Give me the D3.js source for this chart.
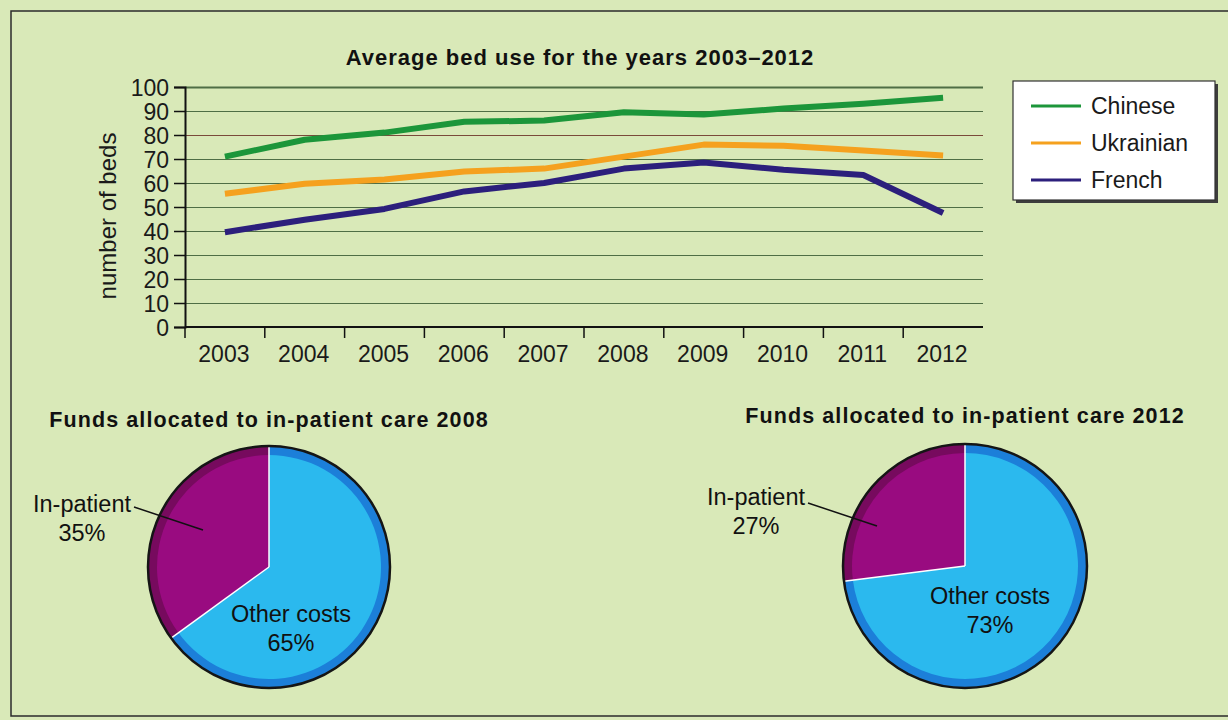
<!DOCTYPE html>
<html>
<head>
<meta charset="utf-8">
<script src="https://cdn.jsdelivr.net/npm/d3@7"></script>
<style>
  body { margin: 0; background: #d9e9b8; }
  svg { display: block; font-family: "Liberation Sans", Arial, sans-serif; }
</style>
</head>
<body>
<svg id="chart" width="1228" height="720"></svg>
<script>
// Data
let years = ["2003", "2004", "2005", "2006", "2007", "2008", "2009", "2010", "2011", "2012"];
let chinese = [71, 78, 81, 85.5, 86, 89.5, 88.5, 91, 93, 95.5];
let ukrainian = [55.5, 59.7, 61.5, 64.8, 66, 71, 76, 75.5, 73.5, 71.5];
let french = [39.5, 44.7, 49.2, 56.5, 60, 66, 68.5, 65.5, 63.3, 47.5];
let seriesNames = ["Chinese", "Ukrainian", "French"];
let seriesColors = ["#1c963a", "#f5a11e", "#2c1f7c"];
let yTicks = [0, 10, 20, 30, 40, 50, 60, 70, 80, 90, 100];

let pieTitles = ["Funds allocated to in-patient care 2008", "Funds allocated to in-patient care 2012"];
let pieLabels = ["Other costs", "In-patient"];
let pie2008 = [65, 35];
let pie2012 = [73, 27];

let svg = d3.select("#chart");

// page frame
svg.append("path")
    .attr("d", "M1228,11 H11 V716 H1228")
    .attr("fill", "none")
    .attr("stroke", "#2b2b2b")
    .attr("stroke-width", 1.5);

// ---------- line chart ----------
let plotLeft = 185, plotRight = 983, plotTop = 87, plotBottom = 327;

let x = d3.scaleBand().domain(years).range([plotLeft, plotRight]);
let y = d3.scaleLinear().domain([0, 100]).range([plotBottom, plotTop]);

// gridlines
svg.append("g")
    .attr("transform", `translate(${plotLeft},0)`)
    .call(d3.axisLeft(y).tickValues(yTicks).tickSize(-(plotRight - plotLeft)).tickFormat(""))
    .call((g) => g.select(".domain").remove())
    .call((g) => g.selectAll("line")
        .attr("stroke", (d) => (d === 80 ? "#7a4a3a" : "#4f6e45"))
        .attr("stroke-width", (d) => (d === 100 ? 2 : 1.2)));

// y axis
svg.append("g")
    .attr("transform", `translate(${plotLeft},0)`)
    .call(d3.axisLeft(y).tickValues(yTicks).tickSize(11).tickPadding(5))
    .call((g) => g.select(".domain").attr("stroke", "#111").attr("stroke-width", 2))
    .call((g) => g.selectAll("line").attr("stroke", "#111").attr("stroke-width", 1.5))
    .call((g) => g.selectAll("text")
        .attr("fill", "#1a1a1a")
        .style("font-size", "23px")
        .attr("dy", "0.36em"));

// x axis
let xAxis = svg.append("g")
    .attr("transform", `translate(0,${plotBottom})`);
xAxis.append("line")
    .attr("x1", plotLeft).attr("x2", plotRight)
    .attr("stroke", "#111").attr("stroke-width", 2);
xAxis.selectAll("line.tick")
    .data(years)
    .join("line")
    .attr("class", "tick")
    .attr("x1", (d) => x(d)).attr("x2", (d) => x(d))
    .attr("y1", 0).attr("y2", 11)
    .attr("stroke", "#111").attr("stroke-width", 1.5);
xAxis.selectAll("text")
    .data(years)
    .join("text")
    .attr("x", (d) => x(d) + x.bandwidth() / 2 - 1)
    .attr("y", 35)
    .attr("text-anchor", "middle")
    .attr("fill", "#1a1a1a")
    .style("font-size", "23px")
    .text((d) => d);

// y title
svg.append("text")
    .attr("transform", "translate(116,216) rotate(-90)")
    .attr("text-anchor", "middle")
    .attr("fill", "#1a1a1a")
    .style("font-size", "24px")
    .text("number of beds");

// title
svg.append("text")
    .attr("x", 580).attr("y", 65)
    .attr("text-anchor", "middle")
    .attr("fill", "#111")
    .style("font-size", "22px")
    .style("font-weight", "bold")
    .style("letter-spacing", "1px")
    .text("Average bed use for the years 2003\u20132012");

// lines
let lineGen = d3.line()
    .x((d, i) => x(years[i]) + x.bandwidth() / 2)
    .y((d) => y(d));

[chinese, ukrainian, french].forEach((vals, i) => {
    svg.append("path")
        .datum(vals)
        .attr("d", lineGen)
        .attr("fill", "none")
        .attr("stroke", seriesColors[i])
        .attr("stroke-width", 6)
        .attr("stroke-linejoin", "round");
});

// legend
let legend = svg.append("g").attr("transform", "translate(1013,81)");
legend.append("rect")
    .attr("x", 3).attr("y", 3).attr("width", 202).attr("height", 119)
    .attr("fill", "#3d3d3d");
legend.append("rect")
    .attr("width", 202).attr("height", 119)
    .attr("fill", "#fff")
    .attr("stroke", "#333").attr("stroke-width", 1.2);
seriesNames.forEach((name, i) => {
    let ly = 25 + i * 37;
    legend.append("line")
        .attr("x1", 18).attr("x2", 68)
        .attr("y1", ly).attr("y2", ly)
        .attr("stroke", seriesColors[i])
        .attr("stroke-width", 3);
    legend.append("text")
        .attr("x", 78).attr("y", ly)
        .attr("dy", "0.35em")
        .attr("fill", "#1a1a1a")
        .style("font-size", "23px")
        .text(name);
});

// ---------- pies ----------
function drawPie(cx, cy, r, values, title, titleY, inLabel, otherLabel) {
    svg.append("text")
        .attr("x", cx).attr("y", titleY)
        .attr("text-anchor", "middle")
        .attr("fill", "#111")
        .style("font-size", "21.5px")
        .style("font-weight", "bold")
        .style("letter-spacing", "1.1px")
        .text(title);

    let g = svg.append("g").attr("transform", `translate(${cx},${cy})`);
    let arcs = d3.pie().sort(null)(values);
    let fills = ["#2bb9ee", "#990b80"];
    let rims = ["#1c7fd9", "#770a5e"];

    let rimArc = d3.arc().innerRadius(0).outerRadius(r);
    let innerArc = d3.arc().innerRadius(0).outerRadius(r - 9);

    g.selectAll("path.rim")
        .data(arcs)
        .join("path")
        .attr("class", "rim")
        .attr("d", rimArc)
        .attr("fill", (d, i) => rims[i]);
    g.selectAll("path.inner")
        .data(arcs)
        .join("path")
        .attr("class", "inner")
        .attr("d", innerArc)
        .attr("fill", (d, i) => fills[i]);

    // white slice borders
    arcs.forEach((a) => {
        g.append("line")
            .attr("x1", 0).attr("y1", 0)
            .attr("x2", r * Math.sin(a.startAngle))
            .attr("y2", -r * Math.cos(a.startAngle))
            .attr("stroke", "#fff")
            .attr("stroke-width", 1.5);
    });

    g.append("circle")
        .attr("r", r)
        .attr("fill", "none")
        .attr("stroke", "#151515")
        .attr("stroke-width", 2.5);

    // other costs label
    g.append("text")
        .attr("text-anchor", "middle")
        .attr("fill", "#111")
        .style("font-size", "23.5px")
        .selectAll("tspan")
        .data([pieLabels[0], values[0] + "%"])
        .join("tspan")
        .attr("x", otherLabel[0])
        .attr("y", (d, i) => otherLabel[1] + i * 28.5)
        .text((d) => d);

    // in-patient label with leader line
    let lbl = svg.append("text")
        .attr("text-anchor", "middle")
        .attr("fill", "#111")
        .style("font-size", "23.5px");
    lbl.selectAll("tspan")
        .data([pieLabels[1], values[1] + "%"])
        .join("tspan")
        .attr("x", inLabel[0])
        .attr("y", (d, i) => inLabel[1] + i * 29)
        .text((d) => d);
    svg.append("line")
        .attr("x1", inLabel[2]).attr("y1", inLabel[3])
        .attr("x2", inLabel[4]).attr("y2", inLabel[5])
        .attr("stroke", "#111")
        .attr("stroke-width", 1.5);
}

drawPie(269, 567, 121, pie2008, pieTitles[0], 427,
    [82, 512, 134, 507, 203, 530], [22, 55]);
drawPie(965, 566, 122, pie2012, pieTitles[1], 423,
    [756, 505, 808, 503, 877, 526], [25, 38]);
</script>
</body>
</html>
